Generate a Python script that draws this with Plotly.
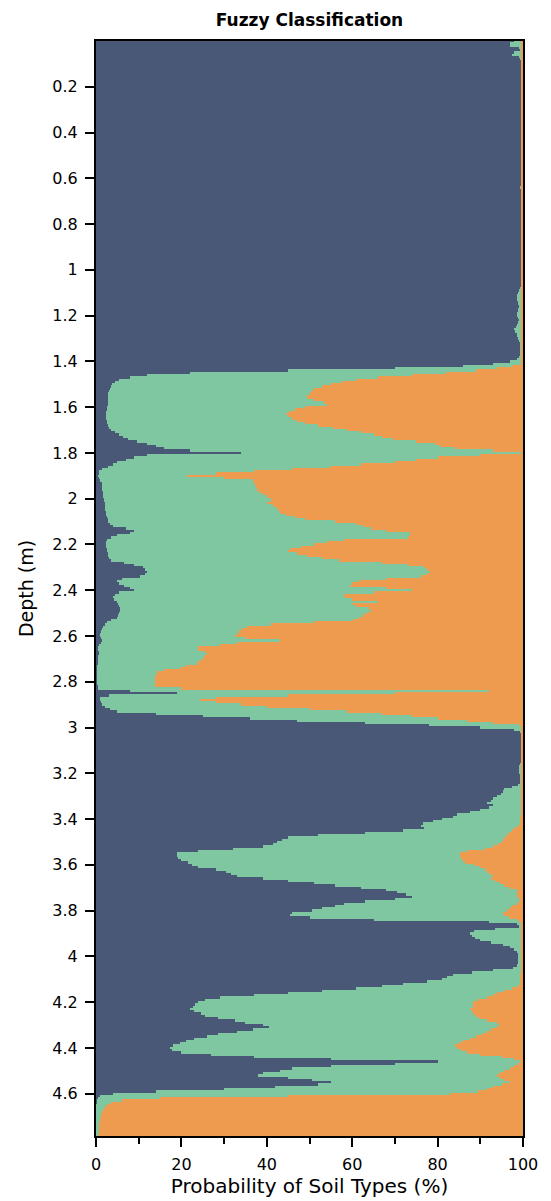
import numpy as np
import plotly.graph_objects as go

# Membership probability (%) of the fine-grained class, one sample per cm
# (each line holds ten samples, starting at the depth in the comment)
p_clay = [
    98, 97, 97, 99, 99.5, 98, 97.5, 99, 99.5, 99.7,                          # 0.00
    99.7, 99.7, 99.7, 99.7, 99.7, 99.7, 99.7, 99.7, 99.7, 99.7,              # 0.10
    99.7, 99.7, 99.7, 99.7, 99.7, 99.7, 99.7, 99.7, 99.7, 99.7,              # 0.20
    99.7, 99.7, 99.7, 99.7, 99.7, 99.7, 99.7, 99.7, 99.7, 99.7,              # 0.30
    99.7, 99.7, 99.7, 99.7, 99.7, 99.7, 99.7, 99.7, 99.7, 99.7,              # 0.40
    99.7, 99.7, 99.7, 99.7, 99.7, 99.7, 99.7, 99.7, 99.7, 99.7,              # 0.50
    99.7, 99.7, 99.7, 99.7, 99.5, 99.7, 99.7, 99.7, 99.7, 99.7,              # 0.60
    99.7, 99.7, 99.7, 99.7, 99.7, 99.7, 99.7, 99.7, 99.7, 99.7,              # 0.70
    99.7, 99.7, 99.7, 99.7, 99.7, 99.7, 99.7, 99.7, 99.7, 99.7,              # 0.80
    99.7, 99.7, 99.7, 99.7, 99.7, 99.7, 99.7, 99.7, 99.7, 99.7,              # 0.90
    99.7, 99.7, 99.7, 99.7, 99.7, 99.7, 99.7, 99.7, 99.5, 99,                # 1.00
    98.8, 98.7, 98.6, 98.6, 98.8, 98.9, 99, 98.9, 98.8, 98.7,                # 1.10
    98.6, 98.8, 99, 98.8, 98.6, 98.3, 98, 98.2, 98.5, 98.7,                  # 1.20
    98.8, 99, 99.2, 99.3, 99.3, 99.3, 99.3, 99.2, 99, 98.5,                  # 1.30
    97, 93, 86, 70, 45, 22, 12, 8, 5.5, 4.5,                                 # 1.40
    3.8, 3.5, 3.3, 3.1, 2.9, 2.9, 2.8, 2.8, 2.7, 2.7,                        # 1.50
    2.5, 2.5, 2.4, 2.4, 2.4, 2.4, 2.5, 2.6, 2.8, 3.1,                        # 1.60
    3.5, 4.4, 5.5, 6.4, 7.5, 9.5, 12, 14, 16, 22,                            # 1.70
    34, 12, 9, 7, 5, 4, 2.8, 1.5, 0.8, 0.6,                                  # 1.80
    0.5, 0.6, 1, 1.3, 1.4, 1.4, 1.5, 1.6, 1.7, 1.7,                          # 1.90
    1.8, 1.9, 2.0, 2.0, 2.1, 2.2, 2.3, 2.4, 2.6, 2.8,                        # 2.00
    2.9, 3.3, 4, 7, 9, 8, 5, 3.5, 2.6, 2.4,                                  # 2.10
    2.4, 2.4, 2.5, 2.6, 2.8, 2.9, 3.1, 3.5, 6.5, 9,                          # 2.20
    11, 11.5, 12, 11.5, 10.3, 6, 5, 5.5, 6.5, 8,                             # 2.30
    9, 5.5, 4.5, 4, 4.2, 4.8, 5.2, 5.5, 5.6, 5.6,                            # 2.40
    5.5, 5.2, 4.8, 3.5, 2.5, 2, 1.6, 1.3, 1.1, 0.9,                          # 2.50
    0.9, 1.2, 1.5, 1.2, 0.6, 0.5, 0.5, 0.6, 0.6, 0.5,                        # 2.60
    0.5, 0.4, 0.4, 0.3, 0.3, 0.3, 0.2, 0.2, 0.2, 0.2,                        # 2.70
    0.3, 0.3, 0.4, 0.5, 8, 19, 3, 1, 1, 1.2,                                 # 2.80
    1.5, 2.2, 3.3, 5, 14, 25, 36, 47, 63, 78,                                # 2.90
    90, 98, 99.5, 99.7, 99.7, 99.7, 99.7, 99.7, 99.7, 99.7,                  # 3.00
    99.7, 99.7, 99.7, 99.7, 99.7, 99.7, 99.2, 99, 99, 99,                    # 3.10
    99, 99.4, 99.4, 99.4, 99.4, 98.8, 97.5, 95.5, 95.3, 94.8,                # 3.20
    94, 93, 92.5, 91.5, 93, 92, 90, 87.5, 84.5, 83.5,                        # 3.30
    81, 79, 76.5, 76, 76.7, 72, 63, 52, 45, 43.5,                            # 3.40
    42.5, 41.5, 39, 32, 24, 19, 18.9, 19.3, 20, 21.5,                        # 3.50
    22.5, 24, 28, 30.5, 31.5, 33, 39, 45, 51, 56,                            # 3.60
    62, 68, 70.5, 72.5, 74, 70, 63, 58, 56, 53,                              # 3.70
    50.5, 46, 45.4, 50, 65, 92, 98.5, 99, 93.5, 88.5,                        # 3.80
    87.6, 88, 88.8, 90, 92.5, 95.4, 97, 98, 98.5, 98.8,                      # 3.90
    98.9, 98.9, 98.9, 98.9, 98.5, 97.7, 93, 88, 83.5, 82.1,                  # 4.00
    81, 77.5, 72, 67, 61, 53, 45, 37, 29, 25.5,                              # 4.10
    24, 23.2, 22.6, 22.1, 23, 24.5, 25.5, 28.5, 32.5, 35,                    # 4.20
    39, 40.5, 36.8, 33, 28.5, 25.9, 23, 21, 19.7, 18,                        # 4.30
    17.3, 17.8, 20, 27, 37, 55, 80, 70, 55, 46,                              # 4.40
    43.1, 39, 38, 45, 50.5, 55, 52, 42, 30, 14,                              # 4.50
    4, 1, 0.5, 0.3, 0.2, 0.1, 0.1, 0.1, 0.1, 0.1,                            # 4.60
    0.1, 0.1, 0.1, 0.1, 0.1, 0.1, 0.1, 0.1, 0.1, 0.1,                        # 4.70
]

# Membership probability (%) of the coarse-grained class, same sampling
p_sand = [
    0.3, 0.3, 0.3, 0.3, 0.3, 0.3, 0.3, 0.3, 0.3, 0.3,                        # 0.00
    0.3, 0.3, 0.3, 0.3, 0.3, 0.3, 0.3, 0.3, 0.3, 0.3,                        # 0.10
    0.3, 0.3, 0.3, 0.3, 0.3, 0.3, 0.3, 0.3, 0.3, 0.3,                        # 0.20
    0.3, 0.3, 0.3, 0.3, 0.3, 0.3, 0.3, 0.3, 0.3, 0.3,                        # 0.30
    0.3, 0.3, 0.3, 0.3, 0.3, 0.3, 0.3, 0.3, 0.3, 0.3,                        # 0.40
    0.3, 0.3, 0.3, 0.3, 0.3, 0.3, 0.3, 0.3, 0.3, 0.3,                        # 0.50
    0.3, 0.3, 0.3, 0.3, 0.3, 0.3, 0.3, 0.3, 0.3, 0.3,                        # 0.60
    0.3, 0.3, 0.3, 0.3, 0.3, 0.3, 0.3, 0.3, 0.3, 0.3,                        # 0.70
    0.3, 0.3, 0.3, 0.3, 0.3, 0.3, 0.3, 0.3, 0.3, 0.3,                        # 0.80
    0.3, 0.3, 0.3, 0.3, 0.3, 0.3, 0.3, 0.3, 0.3, 0.3,                        # 0.90
    0.3, 0.3, 0.3, 0.3, 0.3, 0.3, 0.3, 0.3, 0.3, 0.3,                        # 1.00
    0.3, 0.3, 0.3, 0.3, 0.3, 0.3, 0.3, 0.3, 0.3, 0.3,                        # 1.10
    0.3, 0.3, 0.3, 0.3, 0.3, 0.3, 0.3, 0.3, 0.3, 0.3,                        # 1.20
    0.3, 0.3, 0.3, 0.3, 0.3, 0.3, 0.3, 0.3, 0.3, 0.3,                        # 1.30
    0.3, 0.5, 2.5, 6, 11, 18, 26, 34, 39, 42.5,                              # 1.40
    45, 47, 49, 49.5, 49.9, 50.5, 50.7, 49, 46.5, 46,                        # 1.50
    51, 53.5, 54.7, 55.4, 55, 54.2, 53, 51, 48, 44.5,                        # 1.60
    41.3, 38, 35, 33, 30.4, 25, 20.5, 19.4, 16, 7,                           # 1.70
    0.5, 10, 20, 25, 30, 38, 45.2, 54, 63, 72,                               # 1.80
    78.8, 70, 63.2, 63, 62.8, 62.5, 62.2, 61.8, 61, 60,                      # 1.90
    59, 59, 60, 58.5, 57.7, 57.3, 56.9, 55.5, 53.5, 51,                      # 2.00
    44, 39, 37.4, 35.5, 32, 26.5, 26.5, 27, 42, 46,                          # 2.10
    49, 52, 54.5, 55, 53, 50.7, 47, 43, 33, 27,                              # 2.20
    23.3, 22.5, 21.8, 22.5, 24, 32, 38.5, 40, 40.5, 32,                      # 2.30
    26, 35, 42, 41.7, 40, 34, 40, 39, 36, 35.5,                              # 2.40
    36.5, 37.4, 38.5, 39.7, 49, 59, 64.7, 65.8, 66.5, 67,                    # 2.50
    67.5, 65, 57, 67, 71, 76, 76, 74.5, 74.1, 74.7,                          # 2.60
    75, 75.8, 76.4, 79, 80.3, 84, 85.8, 86, 86.2, 86.2,                      # 2.70
    86.2, 86.2, 86.2, 80, 8, 30, 55, 72, 75.6, 72,                           # 2.80
    66, 60, 50, 41.3, 33, 26, 20, 13, 7, 1,                                  # 2.90
    0.5, 0.3, 0.3, 0.3, 0.3, 0.3, 0.3, 0.3, 0.3, 0.3,                        # 3.00
    0.3, 0.3, 0.3, 0.3, 0.3, 0.3, 0.3, 0.3, 0.3, 0.3,                        # 3.10
    0.3, 0.3, 0.3, 0.3, 0.3, 0.3, 0.3, 0.3, 0.3, 0.3,                        # 3.20
    0.3, 0.3, 0.3, 0.3, 0.3, 0.3, 0.4, 0.4, 0.5, 0.6,                        # 3.30
    0.7, 0.7, 0.8, 1.2, 1.8, 2.5, 3.2, 3.8, 4.2, 4.6,                        # 3.40
    5, 5.8, 7, 9, 13, 14.7, 14.8, 14.6, 14.4, 13.5,                          # 3.50
    11.5, 10, 9, 8.5, 7.7, 7, 7.5, 6.5, 5.4, 4.5,                            # 3.60
    3, 1.5, 1.5, 1.5, 1.3, 0.8, 1, 1.5, 2.5, 3,                              # 3.70
    3.8, 4.6, 4.5, 3.2, 1.5, 0.7, 0.3, 0.3, 0.4, 0.4,                        # 3.80
    0.3, 0.3, 0.3, 0.3, 0.3, 0.3, 0.3, 0.3, 0.3, 0.3,                        # 3.90
    0.3, 0.3, 0.3, 0.3, 0.3, 0.3, 0.4, 0.5, 0.7, 0.7,                        # 4.00
    0.7, 0.7, 0.8, 1.2, 2.5, 4.5, 6, 7, 8.5, 10.5,                           # 4.10
    11.6, 11.6, 11.8, 12.4, 12, 11.6, 11, 10.4, 8.5, 6,                      # 4.20
    5.7, 6, 7.5, 8.5, 9.5, 10.9, 12.5, 14, 15, 15.9,                         # 4.30
    15.5, 14.5, 13, 10.1, 5, 2, 0.7, 1.2, 2, 3,                              # 4.40
    4.5, 5.5, 6, 5.4, 4.5, 3, 5, 7, 8.5, 10.5,                               # 4.50
    17, 55, 85, 94, 96.5, 97.5, 98, 98.3, 98.6, 98.8,                        # 4.60
    98.9, 99, 99.1, 99.2, 99.3, 99.3, 99.4, 99.4, 99.5, 99.5,                # 4.70
]

# Sample depths (m)
depth_step = 0.01
depth = np.round(np.arange(len(p_clay)) * depth_step, 2)

# The intermediate class takes the remaining membership
p_clay = np.array(p_clay, dtype=float)
p_sand = np.array(p_sand, dtype=float)
p_silt = np.clip(100.0 - p_clay - p_sand, 0, None)

classes = [
    ("Clay", p_clay, "#4a5878"),
    ("Silt mixture", p_silt, "#7ec7a1"),
    ("Sand", p_sand, "#ef9b4f"),
]

depth_ticks = [0.2, 0.4, 0.6, 0.8, 1, 1.2, 1.4, 1.6, 1.8, 2, 2.2, 2.4,
               2.6, 2.8, 3, 3.2, 3.4, 3.6, 3.8, 4, 4.2, 4.4, 4.6]
prob_ticks = [0, 20, 40, 60, 80, 100]

fig = go.Figure()
for name, values, color in classes:
    fig.add_trace(go.Bar(
        y=depth, x=values, name=name, orientation="h",
        width=depth_step, marker=dict(color=color, line=dict(width=0)),
        showlegend=False,
    ))

font_family = "DejaVu Sans"
fig.update_layout(
    width=551, height=1201,
    margin=dict(l=96, r=28, t=41, b=65),
    barmode="stack", bargap=0,
    paper_bgcolor="white", plot_bgcolor="white",
    font=dict(family=font_family, color="black", size=16),
    title=dict(text="<b>Fuzzy Classification</b>", x=0.5, xref="paper",
               xanchor="center", y=1 - 20 / 1201, yref="container",
               yanchor="middle", font=dict(size=17, family=font_family)),
)
fig.update_xaxes(
    range=[0, 100], tickvals=prob_ticks, ticks="outside", ticklen=9,
    tickwidth=2, tickcolor="black", showline=True, linecolor="black",
    linewidth=2, mirror=True, showgrid=False, zeroline=False,
    automargin=False,
    minor=dict(dtick=10, tick0=0, ticks="outside", ticklen=6, tickwidth=1.5,
               tickcolor="black", showgrid=False),
    title=dict(text="Probability of Soil Types (%)", font=dict(size=20),
               standoff=4),
    tickfont=dict(size=16), ticklabelstandoff=4,
)
fig.update_yaxes(
    range=[4.785, 0.0], tickvals=depth_ticks, ticks="outside", ticklen=9,
    tickwidth=2, tickcolor="black", showline=True, linecolor="black",
    linewidth=2, mirror=True, showgrid=False, zeroline=False,
    automargin=False,
    title=dict(text="Depth (m)", font=dict(size=19), standoff=14),
    tickfont=dict(size=16), ticklabelstandoff=4,
)

fig.write_html("out.html")
